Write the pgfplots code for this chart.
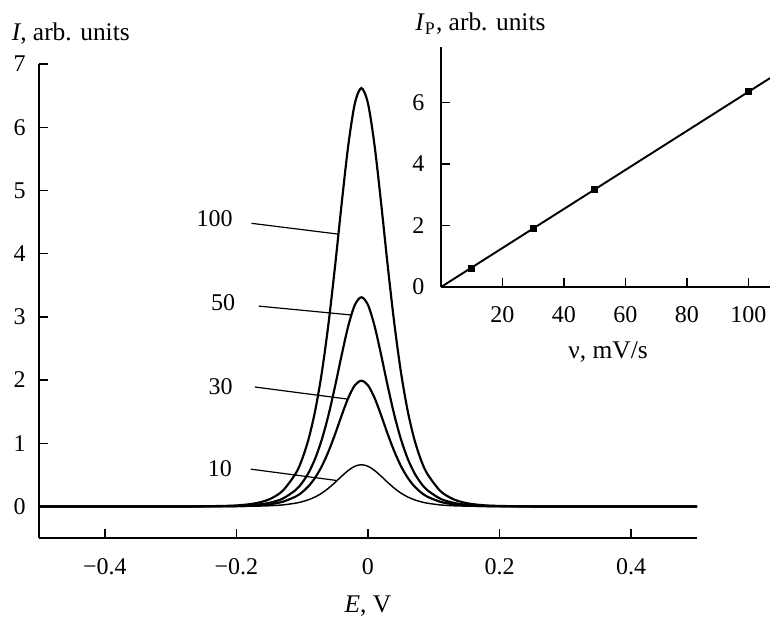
\documentclass[border=0pt]{standalone}
\usepackage{fontspec}
\setmainfont{Liberation Serif}
\usepackage{pgfplots}
\pgfplotsset{compat=1.18}
\usetikzlibrary{calc}

% voltammetric peaks, columns = scan rate 100, 50, 30, 10 mV/s
\pgfplotstableread{
E      I100   I50    I30    I10
-0.50  0      0      0      0
-0.30  0      0      0      0
-0.26  0.001  0.001  0      0
-0.21  0.011  0.006  0.003  0.001
-0.19  0.024  0.012  0.007  0.002
-0.17  0.052  0.026  0.016  0.005
-0.15  0.113  0.057  0.034  0.011
-0.13  0.244  0.122  0.073  0.024
-0.11  0.519  0.259  0.156  0.052
-0.10  0.751  0.376  0.226  0.075
-0.09  1.078  0.539  0.324  0.108
-0.08  1.529  0.765  0.460  0.152
-0.07  2.130  1.065  0.640  0.212
-0.06  2.896  1.448  0.871  0.289
-0.05  3.807  1.904  1.144  0.380
-0.04  4.793  2.396  1.441  0.478
-0.03  5.710  2.855  1.717  0.569
-0.02  6.375  3.188  1.916  0.636
-0.01  6.620  3.310  1.990  0.660
 0.00  6.375  3.188  1.916  0.636
 0.01  5.710  2.855  1.717  0.569
 0.02  4.793  2.396  1.441  0.478
 0.03  3.807  1.904  1.144  0.380
 0.04  2.896  1.448  0.871  0.289
 0.05  2.130  1.065  0.640  0.212
 0.06  1.529  0.765  0.460  0.152
 0.07  1.078  0.539  0.324  0.108
 0.08  0.751  0.376  0.226  0.075
 0.09  0.519  0.259  0.156  0.052
 0.11  0.244  0.122  0.073  0.024
 0.13  0.113  0.057  0.034  0.011
 0.15  0.052  0.026  0.016  0.005
 0.17  0.024  0.012  0.007  0.002
 0.19  0.011  0.006  0.003  0.001
 0.24  0.001  0.001  0      0
 0.30  0      0      0      0
 0.50  0      0      0      0
}\peaks

\pgfplotstableread{
v    Ip
10   0.60
30   1.90
50   3.16
100  6.35
}\peakcur

\begin{document}
\begin{tikzpicture}
\begin{axis}[name=main,
  scale only axis, width=9.64cm, height=6.944cm,
  xmin=-0.5, xmax=0.5, ymin=-0.5, ymax=7,
  axis x line*=bottom, axis y line*=left,
  axis line style={line width=0.6pt},
  tick align=inside, major tick length=0.13cm,
  tick style={line width=0.6pt, black},
  xtick={-0.4,-0.2,0,0.2,0.4}, xticklabels={−0.4,−0.2,0,0.2,0.4},
  ytick={0,1,...,7},
  /pgf/number format/assume math mode=true,
  ticklabel style={font=\normalsize},
  xticklabel style={yshift=-0.17cm},
  yticklabel style={xshift=-0.07cm},
  every axis x label/.style={at={(rel axis cs:0.5,0)}, yshift=-1.0cm, anchor=center,
    font=\fontsize{10.6}{12}\selectfont, inner sep=0pt},
  every axis y label/.style={at={(rel axis cs:-0.042,1.065)}, anchor=west,
    font=\fontsize{10.6}{12}\selectfont, inner sep=0pt},
  xlabel={\textit{E}, V}, ylabel={\textit{I}, arb. units},
  clip=false]
  \addplot[smooth, line width=0.6pt] table[x=E, y=I10] {\peaks};
  \addplot[smooth, line width=0.9pt] table[x=E, y=I30] {\peaks};
  \addplot[smooth, line width=0.9pt] table[x=E, y=I50] {\peaks};
  \addplot[smooth, line width=0.9pt] table[x=E, y=I100] {\peaks};
  \draw[line width=0.5pt] (axis cs:-0.177,4.48) -- (axis cs:-0.046,4.31);
  \draw[line width=0.5pt] (axis cs:-0.166,3.17) -- (axis cs:-0.026,3.03);
  \draw[line width=0.5pt] (axis cs:-0.172,1.89) -- (axis cs:-0.032,1.70);
  \draw[line width=0.5pt] (axis cs:-0.178,0.59) -- (axis cs:-0.047,0.41);
  \node[inner sep=0pt] at (axis cs:-0.233,4.56) {100};
  \node[inner sep=0pt] at (axis cs:-0.220,3.22) {50};
  \node[inner sep=0pt] at (axis cs:-0.224,1.89) {30};
  \node[inner sep=0pt] at (axis cs:-0.225,0.60) {10};
\end{axis}

\begin{axis}[
  at={($(main.south west)+(5.889cm,3.677cm)$)}, anchor=south west,
  scale only axis, width=4.82cm, height=3.516cm,
  xmin=0, xmax=107, ymin=0, ymax=7.8,
  axis x line*=bottom, axis y line*=left,
  axis line style={line width=0.6pt},
  tick align=inside, major tick length=0.13cm,
  tick style={line width=0.6pt, black},
  xtick={20,40,...,100}, ytick={0,2,4,6},
  /pgf/number format/assume math mode=true,
  ticklabel style={font=\normalsize},
  xticklabel style={yshift=-0.16cm},
  yticklabel style={xshift=-0.12cm},
  every axis x label/.style={at={(rel axis cs:0.508,0)}, yshift=-0.95cm, anchor=center,
    font=\fontsize{10.6}{12}\selectfont, inner sep=0pt},
  every axis y label/.style={at={(rel axis cs:-0.079,1.096)}, anchor=west,
    font=\fontsize{10.6}{12}\selectfont, inner sep=0pt},
  xlabel={ν, mV/s}, ylabel={\textit{I}\textsubscript{P}, arb. units}]
  \addplot[line width=0.8pt] coordinates {(0,0) (107,6.79)};
  \addplot[only marks, mark=square*, mark size=1.3pt] table[x=v, y=Ip] {\peakcur};
\end{axis}

\pgfresetboundingbox
\path[use as bounding box] ($(main.south west)+(-0.571cm,-1.143cm)$) rectangle ($(main.south west)+(10.709cm,7.882cm)$);
\end{tikzpicture}
\end{document}
